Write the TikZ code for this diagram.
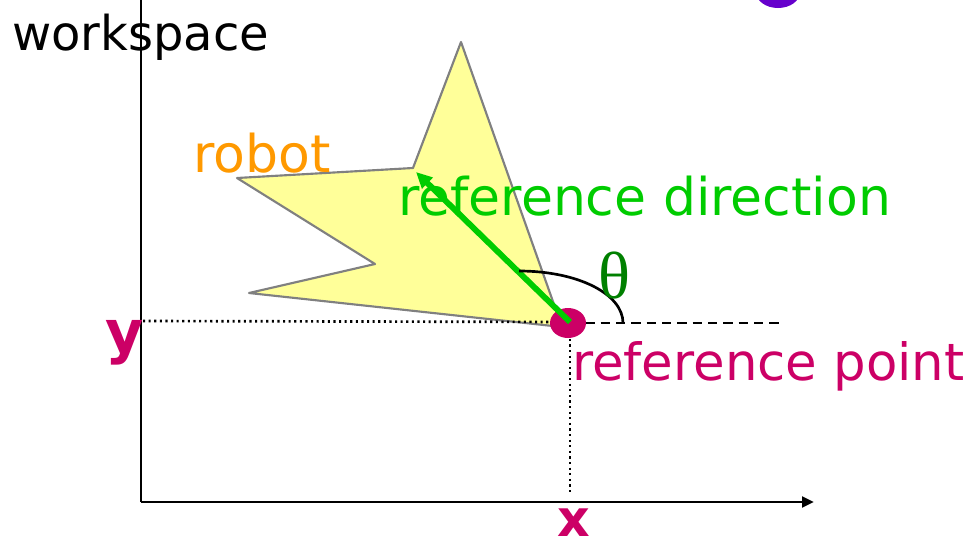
\documentclass[tikz,border=0pt]{standalone}
\usepackage{fontspec}
\setmainfont{DejaVu Sans}
\newfontfamily\thetafont{Liberation Serif}
\usetikzlibrary{arrows.meta}
\definecolor{robotor}{RGB}{255,153,0}
\definecolor{refgreen}{RGB}{0,204,0}
\definecolor{thgreen}{RGB}{0,128,0}
\definecolor{mag}{RGB}{204,0,102}
\definecolor{starfill}{RGB}{255,255,153}
\definecolor{purp}{RGB}{102,0,204}
\tikzset{
  lbl/.style={inner sep=0pt, anchor=base west},
  axis/.style={line width=2.2pt},
  guide/.style={line width=2pt, dash pattern=on 1.6pt off 2.6pt},
}
\begin{document}
\begin{tikzpicture}[x=0.75pt,y=-0.75pt]
\useasboundingbox (0,0) rectangle (967,550);
\begin{scope}
\clip (0,0) rectangle (967,550);
% purple blob at top (cut off)
\fill[purp] (778,-8) ellipse [x radius=22, y radius=16];
\end{scope}
% star robot
\draw[draw=gray, line width=1.6pt, fill=starfill, line join=round]
  (461,42) -- (413,168) -- (237,178) -- (375,264) -- (249,293) -- (562,327) -- cycle;
% axes
\coordinate (O) at (141,502);
\coordinate (Ytop) at (141,0);
\coordinate (Xend) at (814,502);
\draw[axis] (O) -- (Ytop);
\draw[axis, -{Triangle[length=9pt,width=8pt]}] (O) -- (Xend);
% reference point
\coordinate (P) at (570,322);
\coordinate (Yax) at (143,321);
\coordinate (Xax) at (570,494);
\coordinate (Dend) at (780,323);
\draw[guide] (Yax) -- (P);
\draw[guide] (P) -- (Xax);
\draw[line width=1.8pt, dash pattern=on 7pt off 4.5pt] (P) ++(0,1) -- (Dend);
\fill[mag] (568,323) ellipse [x radius=18, y radius=15];
% reference direction arrow
\coordinate (Dtip) at (416,172);
\draw[refgreen, line width=4.4pt, -{Triangle[length=12pt,width=11pt]}] (P) -- (Dtip);
% theta arc
\coordinate (A1) at (519,271);
\coordinate (A2) at (623,323);
\draw[line width=2pt] (A1) .. controls (578,271) and (623,294) .. (A2);
% labels
\node[lbl, font=\fontsize{36}{36}\selectfont] (ws) at (12,50) {workspace};
\node[lbl, font=\fontsize{39}{39}\selectfont, text=robotor] (rb) at (193,172) {robot};
\node[lbl, font=\fontsize{39}{39}\selectfont, text=refgreen] (rd) at (398,215) {reference direction};
\node[inner sep=0pt, font=\thetafont\fontsize{50}{50}\selectfont, text=thgreen] (th) at (614,276) {θ};
\node[lbl, font=\fontsize{44}{44}\selectfont\bfseries, text=mag] (yl) at (105,352) {y};
\node[lbl, font=\fontsize{38.5}{38.5}\selectfont, text=mag] (rp) at (572,380) {reference point};
\node[lbl, font=\fontsize{38}{38}\selectfont\bfseries, text=mag] (xl) at (557,536) {x};
\end{tikzpicture}
\end{document}
